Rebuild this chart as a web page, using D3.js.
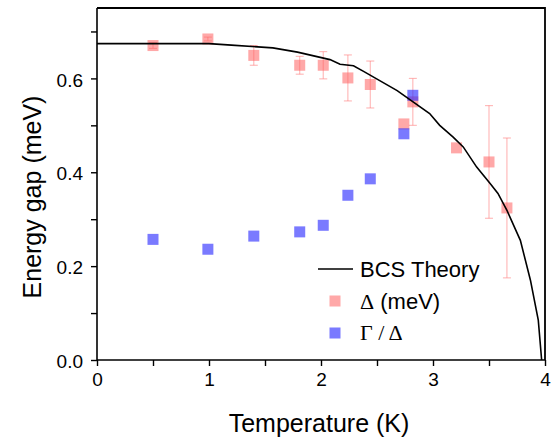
<!DOCTYPE html>
<html>
<head>
<meta charset="utf-8">
<script src="https://cdn.jsdelivr.net/npm/d3@7"></script>
<style>
  body { margin: 0; background: #fff; }
  svg { display: block; font-family: "Liberation Sans", Arial, sans-serif; }
</style>
</head>
<body>
<div id="chart"></div>
<script>
// BCS theory curve
const bcsT   = [0, 0.5, 1.0, 1.2, 1.57, 1.79, 2.08, 2.17, 2.29, 2.38, 2.68, 2.97, 3.06, 3.18, 3.27, 3.39, 3.51, 3.58, 3.66, 3.78, 3.87, 3.94, 3.97];
const bcsGap = [0.674, 0.674, 0.674, 0.671, 0.665, 0.656, 0.640, 0.630, 0.627, 0.615, 0.574, 0.525, 0.500, 0.475, 0.454, 0.411, 0.376, 0.355, 0.319, 0.255, 0.170, 0.085, 0.0];

// measured points
const tempK    = [0.50, 0.99, 1.40, 1.81, 2.02, 2.24, 2.44, 2.82, 2.74, 3.21, 3.50, 3.66];
const gapMeV   = [0.670, 0.684, 0.649, 0.628, 0.628, 0.601, 0.587, 0.550, 0.503, 0.452, 0.422, 0.324];
const gapErr   = [0.006, 0.004, 0.021, 0.019, 0.029, 0.049, 0.050, 0.050, 0, 0, 0.120, 0.149];

const ratioT   = [0.50, 0.99, 1.40, 1.81, 2.02, 2.24, 2.44, 2.74, 2.82];
const ratio    = [0.257, 0.236, 0.264, 0.273, 0.287, 0.351, 0.386, 0.482, 0.564];

const xTicks = [0, 1, 2, 3, 4];
const yTicks = [0.0, 0.2, 0.4, 0.6];

const width = 558, height = 438;
const margin = { left: 97, right: 13, top: 8, bottom: 78 };

const svg = d3.select("#chart").append("svg")
  .attr("width", width)
  .attr("height", height);

const x = d3.scaleLinear().domain([0, 4]).range([margin.left, width - margin.right]);
const y = d3.scaleLinear().domain([0, 0.75]).range([height - margin.bottom, margin.top]);

const red = "rgba(255, 100, 100, 0.56)";
const blue = "rgba(40, 40, 255, 0.62)";
const sq = 11;

// error bars
const errG = svg.append("g")
  .attr("stroke", "rgba(255, 120, 120, 0.55)")
  .attr("stroke-width", 1.1);
tempK.forEach((t, i) => {
  const e = gapErr[i];
  if (!e) return;
  const lo = y(gapMeV[i] - e), hi = y(gapMeV[i] + e);
  errG.append("line").attr("x1", x(t)).attr("x2", x(t)).attr("y1", lo).attr("y2", hi);
  errG.append("line").attr("x1", x(t) - 4).attr("x2", x(t) + 4).attr("y1", lo).attr("y2", lo);
  errG.append("line").attr("x1", x(t) - 4).attr("x2", x(t) + 4).attr("y1", hi).attr("y2", hi);
});

// gap squares
svg.append("g").selectAll("rect")
  .data(tempK.map((t, i) => [t, gapMeV[i]]))
  .enter().append("rect")
  .attr("x", d => x(d[0]) - sq / 2)
  .attr("y", d => y(d[1]) - sq / 2)
  .attr("width", sq).attr("height", sq)
  .attr("fill", red);

// ratio squares
svg.append("g").selectAll("rect")
  .data(ratioT.map((t, i) => [t, ratio[i]]))
  .enter().append("rect")
  .attr("x", d => x(d[0]) - sq / 2)
  .attr("y", d => y(d[1]) - sq / 2)
  .attr("width", sq).attr("height", sq)
  .attr("fill", blue);

// BCS line
const line = d3.line().x(d => x(d[0])).y(d => y(d[1]));
svg.append("path")
  .datum(bcsT.map((t, i) => [t, bcsGap[i]]))
  .attr("d", line)
  .attr("fill", "none")
  .attr("stroke", "#000")
  .attr("stroke-width", 1.6);

// axes
const xAxis = d3.axisBottom(x).tickValues(d3.range(0, 4.01, 0.5)).tickSize(6).tickPadding(7)
  .tickFormat(d => xTicks.includes(d) ? d3.format("d")(d) : "");
const yAxis = d3.axisLeft(y).tickValues(d3.range(0, 0.751, 0.1).map(v => +v.toFixed(1))).tickSize(6).tickPadding(8)
  .tickFormat(d => yTicks.includes(d) ? d3.format(".1f")(d) : "");

const gx = svg.append("g").attr("transform", `translate(0,${y(0)})`).call(xAxis);
const gy = svg.append("g").attr("transform", `translate(${x(0)},0)`).call(yAxis);
[gx, gy].forEach(g => {
  g.select(".domain").attr("stroke-width", 1.6);
  g.selectAll(".tick line").attr("stroke-width", 1.4);
  g.selectAll("text").attr("font-size", 19).attr("fill", "#000")
    .attr("font-family", "'Liberation Sans', Arial, sans-serif");
});
gy.selectAll("text").attr("dy", "0.4em");
gy.select(".domain").attr("d", `M0,${y(0.75)}V${y(0)}`);
gx.select(".domain").attr("d", `M${x(0)},0H${x(4)}`);

// frame top and right
svg.append("path")
  .attr("d", `M${x(0)},${y(0.75)}H${x(4)}V${y(0)}`)
  .attr("fill", "none").attr("stroke", "#000").attr("stroke-width", 1.8);

// axis titles
svg.append("text")
  .attr("x", (x(0) + x(4)) / 2 - 2)
  .attr("y", 432)
  .attr("text-anchor", "middle")
  .attr("font-size", 25)
  .text("Temperature (K)");

svg.append("text")
  .attr("transform", `translate(41,${197}) rotate(-90)`)
  .attr("text-anchor", "middle")
  .attr("font-size", 25)
  .text("Energy gap (meV)");

// legend
const lg = svg.append("g").attr("font-size", 22);
lg.append("line").attr("x1", 318).attr("x2", 353).attr("y1", 269).attr("y2", 269)
  .attr("stroke", "#000").attr("stroke-width", 1.6);
lg.append("text").attr("x", 360).attr("y", 277).text("BCS Theory");

lg.append("rect").attr("x", 335 - sq / 2).attr("y", 301 - sq / 2).attr("width", sq).attr("height", sq).attr("fill", red);
const t1 = lg.append("text").attr("x", 360).attr("y", 309);
t1.append("tspan").attr("font-family", "'Liberation Serif', serif").text("Δ");
t1.append("tspan").text(" (meV)");

lg.append("rect").attr("x", 335 - sq / 2).attr("y", 333 - sq / 2).attr("width", sq).attr("height", sq).attr("fill", blue);
lg.append("text").attr("x", 360).attr("y", 340)
  .attr("font-family", "'Liberation Serif', serif")
  .text("Γ / Δ");
</script>
</body>
</html>
